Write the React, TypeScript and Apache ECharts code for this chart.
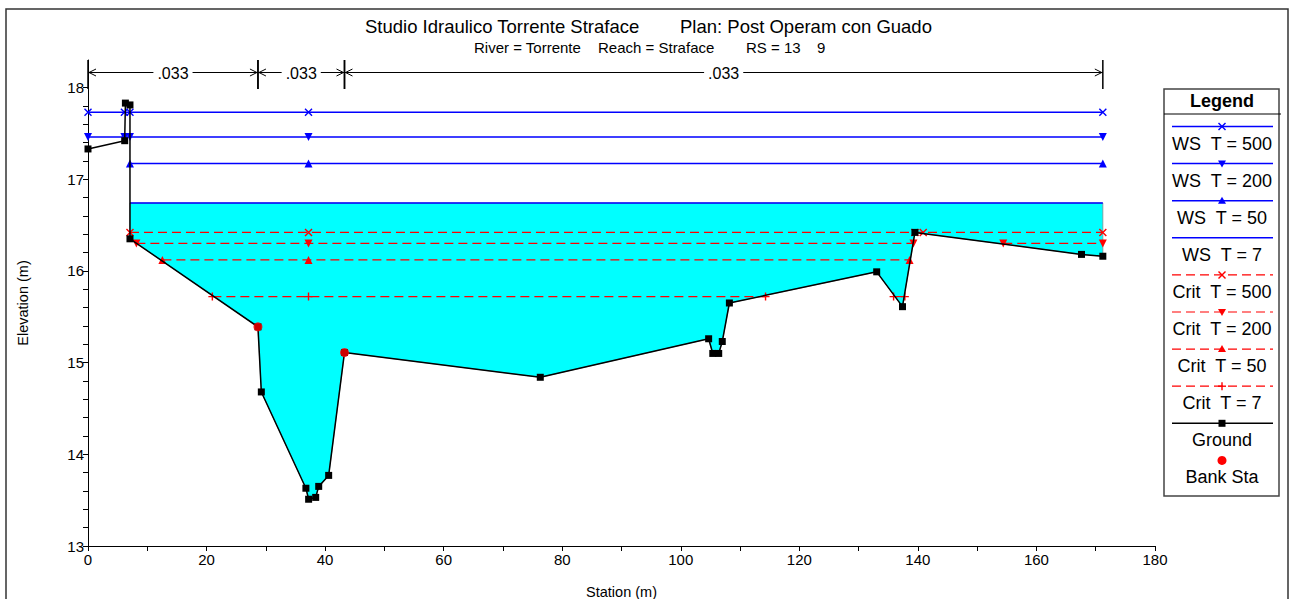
import React, { useEffect, useRef } from 'react';
import * as echarts from 'echarts';

// ---------- data ----------
const groundX = [0, 6.19, 6.31, 7.08, 7.08, 28.67, 29.24, 36.76, 37.22, 38.41, 38.92, 40.6, 43.27, 76.3, 104.7, 105.4, 106.4, 107.0, 108.2, 133.05, 137.4, 139.5, 167.6, 171.2];
const groundY = [17.33, 17.42, 17.83, 17.81, 16.35, 15.39, 14.68, 13.63, 13.51, 13.53, 13.65, 13.77, 15.11, 14.84, 15.26, 15.1, 15.1, 15.23, 15.65, 15.99, 15.61, 16.42, 16.18, 16.16];
const bankX = [28.67, 43.27];
const bankY = [15.39, 15.11];

const ws500Level = 17.73;
const ws500X = [[0, 6.14, 7.08, 37.2, 171.2]];
const ws200Level = 17.46;
const ws200X = [[0, 6.14, 7.08, 37.2, 171.2]];
const ws50Level = 17.17;
const ws50X = [[7.08, 37.2, 171.2]];
const ws7Level = 16.74;
const ws7X = [[7.08, 171.2]];
const crit500Level = 16.42;
const crit500X = [[7.08, 37.2, 139.5, 140.9, 171.2]];
const crit200Level = 16.3;
const crit200X = [[8.16, 37.2, 139.25], [154.4, 171.2]];
const crit50Level = 16.12;
const crit50X = [[12.55, 37.2, 138.6]];
const crit7Level = 15.72;
const crit7X = [[20.98, 37.2, 114.3], [135.9, 137.8]];

const nBounds = [0, 28.67, 43.27, 171.2];
const nValues = ['.033', '.033', '.033'];

const xTickLabels = [0, 20, 40, 60, 80, 100, 120, 140, 160, 180];
const yTickLabels = [13, 14, 15, 16, 17, 18];
const yTicks = [13, 13.2, 13.4, 13.6, 13.8, 14, 14.2, 14.4, 14.6, 14.8, 15, 15.2, 15.4, 15.6, 15.8, 16, 16.2, 16.4, 16.6, 16.8, 17, 17.2, 17.4, 17.6, 17.8, 18];

const titleMain = 'Studio Idraulico Torrente Straface';
const titlePlan = 'Plan: Post Operam con Guado';
const subParts = ['River = Torrente', 'Reach = Straface', 'RS = 13', '9'];
const legendLabels = ['WS\u00a0 T = 500', 'WS\u00a0 T = 200', 'WS\u00a0 T = 50', 'WS\u00a0 T = 7', 'Crit\u00a0 T = 500', 'Crit\u00a0 T = 200', 'Crit\u00a0 T = 50', 'Crit\u00a0 T = 7', 'Ground', 'Bank Sta'];

// ---------- styling ----------
const FONT = '"Liberation Sans", Arial, sans-serif';
const BLUE = '#0000ff';
const RED = '#ff0000';
const xSym = 'path://M0,0L10,10M10,0L0,10';
const plusSym = 'path://M5,0L5,10M0,5L10,5';

type Kind = 'x' | 'down' | 'up' | 'none' | 'plus' | 'square' | 'circle';

function symbolOf(kind: Kind) {
  switch (kind) {
    case 'x': return { symbol: xSym, symbolSize: 7, symbolRotate: 0, borderWidth: 1.4 };
    case 'plus': return { symbol: plusSym, symbolSize: 8, symbolRotate: 0, borderWidth: 1.4 };
    case 'down': return { symbol: 'triangle', symbolSize: 8, symbolRotate: 180, borderWidth: 0 };
    case 'up': return { symbol: 'triangle', symbolSize: 8, symbolRotate: 0, borderWidth: 0 };
    default: return { symbol: 'none', symbolSize: 0, symbolRotate: 0, borderWidth: 0 };
  }
}

function levelSeries(name: string, segs: number[][], level: number, color: string, dashed: boolean, kind: Kind, z: number) {
  const s = symbolOf(kind);
  return segs.map((seg, i) => ({
    type: 'line',
    name: name + '_' + i,
    data: seg.map((x) => [x, level]),
    z,
    silent: true,
    symbol: s.symbol,
    symbolSize: s.symbolSize,
    symbolRotate: s.symbolRotate,
    showSymbol: kind !== 'none',
    showAllSymbol: true,
    lineStyle: { color, width: dashed ? 1.2 : 1.5, type: dashed ? [9, 5] : 'solid' },
    itemStyle: { color, borderColor: color, borderWidth: s.borderWidth },
    emphasis: { disabled: true },
  }));
}

function legendGraphic() {
  const left = 1164, top = 89, w = 115, h = 407;
  const cx = left + w / 2 + 0.5;
  const els: any[] = [];
  els.push({ type: 'rect', shape: { x: left, y: top, width: w, height: h }, style: { fill: '#fff', stroke: '#444', lineWidth: 1.5 }, z: 10 });
  els.push({ type: 'line', shape: { x1: left, y1: 114, x2: left + w + 2, y2: 114 }, style: { stroke: '#000', lineWidth: 1 }, z: 11 });
  els.push({ type: 'text', z: 11, style: { text: 'Legend', x: cx, y: 101, textAlign: 'center', align: 'center', textVerticalAlign: 'middle', verticalAlign: 'middle', font: 'bold 18px ' + FONT, fill: '#000' } });
  const kinds: Kind[] = ['x', 'down', 'up', 'none', 'x', 'down', 'up', 'plus', 'square', 'circle'];
  legendLabels.forEach((label, i) => {
    const ly = 126.5 + i * 37.1;
    const ty = ly + 17;
    const isCrit = i >= 4 && i <= 7;
    const color = i < 4 ? BLUE : isCrit ? RED : '#000';
    if (i < 9) {
      els.push({ type: 'line', z: 11, shape: { x1: 1172, y1: ly, x2: 1273, y2: ly }, style: { stroke: color, lineWidth: isCrit ? 1.2 : 1.5, lineDash: isCrit ? [9, 5] : null } });
    }
    const k = kinds[i];
    if (k === 'x') {
      els.push({ type: 'line', z: 12, shape: { x1: cx - 3.5, y1: ly - 3.5, x2: cx + 3.5, y2: ly + 3.5 }, style: { stroke: color, lineWidth: 1.4 } });
      els.push({ type: 'line', z: 12, shape: { x1: cx + 3.5, y1: ly - 3.5, x2: cx - 3.5, y2: ly + 3.5 }, style: { stroke: color, lineWidth: 1.4 } });
    } else if (k === 'plus') {
      els.push({ type: 'line', z: 12, shape: { x1: cx - 4, y1: ly, x2: cx + 4, y2: ly }, style: { stroke: color, lineWidth: 1.4 } });
      els.push({ type: 'line', z: 12, shape: { x1: cx, y1: ly - 4, x2: cx, y2: ly + 4 }, style: { stroke: color, lineWidth: 1.4 } });
    } else if (k === 'down') {
      els.push({ type: 'polygon', z: 12, shape: { points: [[cx - 4, ly - 3], [cx + 4, ly - 3], [cx, ly + 4]] }, style: { fill: color } });
    } else if (k === 'up') {
      els.push({ type: 'polygon', z: 12, shape: { points: [[cx - 4, ly + 3], [cx + 4, ly + 3], [cx, ly - 4]] }, style: { fill: color } });
    } else if (k === 'square') {
      els.push({ type: 'rect', z: 12, shape: { x: cx - 3.5, y: ly - 3.5, width: 7, height: 7 }, style: { fill: '#000' } });
    } else if (k === 'circle') {
      els.push({ type: 'circle', z: 12, shape: { cx, cy: ly, r: 4.5 }, style: { fill: RED } });
    }
    els.push({ type: 'text', z: 11, style: { text: label, x: cx, y: ty, textAlign: 'center', align: 'center', textVerticalAlign: 'middle', verticalAlign: 'middle', font: '18px ' + FONT, fill: '#000' } });
  });
  return els;
}

export default function App() {
  const ref = useRef<HTMLDivElement>(null);
  useEffect(() => {
    document.body.style.margin = '0';
    const chart = echarts.init(ref.current!, null, { renderer: 'svg' });

    const series: any[] = [];

    // water fill between WS T=7 and ground
    series.push({
      type: 'custom',
      name: 'fill',
      silent: true,
      clip: false,
      z: 1,
      data: [[ws7X[0][0], ws7Level]],
      renderItem: (params: any, api: any) => {
        const x0 = ws7X[0][0];
        const x1 = ws7X[0][ws7X[0].length - 1];
        const pts: number[][] = [api.coord([x0, ws7Level]), api.coord([x1, ws7Level])];
        for (let i = groundX.length - 1; i >= 0; i--) {
          if (groundX[i] >= x0 && groundY[i] <= ws7Level + 0.001) pts.push(api.coord([groundX[i], groundY[i]]));
        }
        return { type: 'polygon', shape: { points: pts }, style: { fill: '#00ffff', stroke: '#7f8f8f', lineWidth: 0.8 } };
      },
    });

    // n-value annotations
    series.push({
      type: 'custom',
      name: 'nvalues',
      silent: true,
      clip: false,
      z: 5,
      data: nValues.map((_, i) => [nBounds[i], nBounds[i + 1], 18]),
      encode: { x: [0, 1], y: 2 },
      renderItem: (params: any, api: any) => {
        const x1 = api.coord([api.value(0), 18])[0];
        const x2 = api.coord([api.value(1), 18])[0];
        const top = params.coordSys.y;
        const ay = top + 12.5;
        const mid = (x1 + x2) / 2;
        const st = { stroke: '#000', lineWidth: 1 };
        return {
          type: 'group',
          children: [
            { type: 'line', shape: { x1, y1: top, x2: x1, y2: top + 29 }, style: { stroke: '#000', lineWidth: 1.5 } },
            { type: 'line', shape: { x1: x2, y1: top, x2: x2, y2: top + 29 }, style: { stroke: '#000', lineWidth: 1.5 } },
            { type: 'line', shape: { x1: x1, y1: ay, x2: x2, y2: ay }, style: st },
            { type: 'polyline', shape: { points: [[x1 + 8, ay - 3.5], [x1 + 1, ay], [x1 + 8, ay + 3.5]] }, style: { ...st, fill: null } },
            { type: 'polyline', shape: { points: [[x2 - 8, ay - 3.5], [x2 - 1, ay], [x2 - 8, ay + 3.5]] }, style: { ...st, fill: null } },
            {
              type: 'text',
              style: {
                text: nValues[params.dataIndex], x: mid, y: ay + 1,
                align: 'center', textAlign: 'center', verticalAlign: 'middle', textVerticalAlign: 'middle',
                font: '16px ' + FONT, fill: '#000', backgroundColor: '#fff', padding: [0, 4],
              },
            },
          ],
        };
      },
    });

    series.push(...levelSeries('WS T = 500', ws500X, ws500Level, BLUE, false, 'x', 3));
    series.push(...levelSeries('WS T = 200', ws200X, ws200Level, BLUE, false, 'down', 3));
    series.push(...levelSeries('WS T = 50', ws50X, ws50Level, BLUE, false, 'up', 3));
    series.push(...levelSeries('WS T = 7', ws7X, ws7Level, BLUE, false, 'none', 3));
    series.push(...levelSeries('Crit T = 500', crit500X, crit500Level, RED, true, 'x', 4));
    series.push(...levelSeries('Crit T = 200', crit200X, crit200Level, RED, true, 'down', 4));
    series.push(...levelSeries('Crit T = 50', crit50X, crit50Level, RED, true, 'up', 4));
    series.push(...levelSeries('Crit T = 7', crit7X, crit7Level, RED, true, 'plus', 4));

    series.push({
      type: 'line',
      name: 'Ground',
      data: groundX.map((x, i) => [x, groundY[i]]),
      z: 6,
      silent: true,
      symbol: 'rect',
      symbolSize: 7,
      showSymbol: true,
      showAllSymbol: true,
      lineStyle: { color: '#000', width: 1.5 },
      itemStyle: { color: '#000', borderWidth: 0 },
      emphasis: { disabled: true },
    });
    series.push({
      type: 'scatter',
      name: 'Bank Sta',
      data: bankX.map((x, i) => [x, bankY[i]]),
      z: 7,
      silent: true,
      symbol: 'circle',
      symbolSize: 9,
      itemStyle: { color: RED },
      emphasis: { disabled: true },
    });

    const axisCommon = {
      axisLine: { show: true, onZero: false, lineStyle: { color: '#000', width: 1 } },
      splitLine: { show: false },
      nameLocation: 'middle',
      nameTextStyle: { fontSize: 14.5, color: '#000', fontFamily: FONT },
    };

    chart.setOption({
      animation: false,
      textStyle: { fontFamily: FONT },
      grid: { left: 88, right: 136, top: 60, bottom: 53, outerBoundsMode: 'none' },
      xAxis: {
        ...axisCommon,
        type: 'value',
        min: 0,
        max: 180,
        interval: 10,
        name: 'Station (m)',
        nameGap: 38,
        axisTick: { show: true, length: 5, lineStyle: { color: '#000' } },
        axisLabel: { customValues: xTickLabels, color: '#000', fontSize: 15, margin: 6, fontFamily: FONT },
      },
      yAxis: {
        ...axisCommon,
        type: 'value',
        min: 13,
        max: 18.3,
        interval: 1,
        name: 'Elevation (m)',
        nameGap: 58,
        nameRotate: 90,
        axisTick: { show: true, length: 5, customValues: yTicks, lineStyle: { color: '#000' } },
        axisLabel: { customValues: yTickLabels, color: '#000', fontSize: 15, margin: 4, fontFamily: FONT },
      },
      graphic: [
        { type: 'rect', shape: { x: 6, y: 9, width: 1282, height: 640 }, style: { fill: 'none', stroke: '#333', lineWidth: 1.5 }, z: 0, silent: true },
        { type: 'text', style: { text: titleMain, x: 365, y: 26, textAlign: 'left', align: 'left', textVerticalAlign: 'middle', verticalAlign: 'middle', font: '18.5px ' + FONT, fill: '#000' } },
        { type: 'text', style: { text: titlePlan, x: 680, y: 26, textAlign: 'left', align: 'left', textVerticalAlign: 'middle', verticalAlign: 'middle', font: '18.5px ' + FONT, fill: '#000' } },
        { type: 'text', style: { text: subParts[0], x: 474, y: 47, textAlign: 'left', align: 'left', textVerticalAlign: 'middle', verticalAlign: 'middle', font: '15px ' + FONT, fill: '#000' } },
        { type: 'text', style: { text: subParts[1], x: 598, y: 47, textAlign: 'left', align: 'left', textVerticalAlign: 'middle', verticalAlign: 'middle', font: '15px ' + FONT, fill: '#000' } },
        { type: 'text', style: { text: subParts[2], x: 746, y: 47, textAlign: 'left', align: 'left', textVerticalAlign: 'middle', verticalAlign: 'middle', font: '15px ' + FONT, fill: '#000' } },
        { type: 'text', style: { text: subParts[3], x: 817, y: 47, textAlign: 'left', align: 'left', textVerticalAlign: 'middle', verticalAlign: 'middle', font: '15px ' + FONT, fill: '#000' } },
        ...legendGraphic(),
      ],
      series,
    });
    return () => chart.dispose();
  }, []);
  return <div ref={ref} style={{ position: 'absolute', left: 0, top: 0, width: 1291, height: 599 }} />;
}
